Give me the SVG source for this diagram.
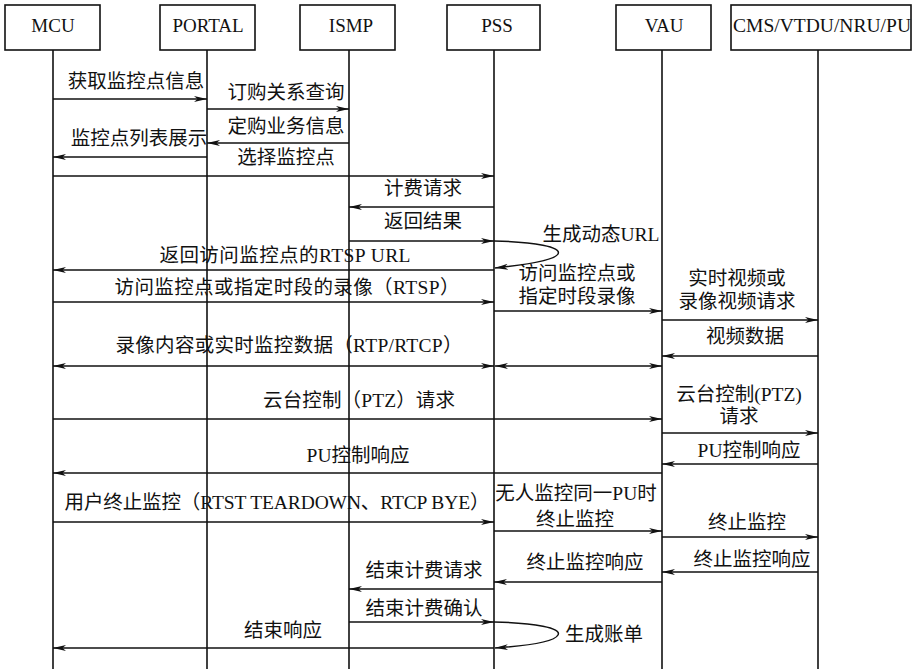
<svg xmlns="http://www.w3.org/2000/svg" width="913" height="669" viewBox="0 0 913 669">
<style>
.box{fill:#fff;stroke:#111;stroke-width:1.6}
.life{stroke:#111;stroke-width:1.6;fill:none}
.hd{font-family:"Liberation Serif","Noto Sans CJK SC",serif;font-size:19px;fill:#111;text-anchor:middle}
.msg{stroke:#111;stroke-width:1.5;fill:none;marker-end:url(#ah)}
.dbl{stroke:#111;stroke-width:1.5;fill:none;marker-end:url(#ah);marker-start:url(#ah)}
.t{font-family:"Liberation Serif","Noto Sans CJK SC",serif;font-size:19.5px;fill:#111;text-anchor:middle}
</style>
<defs>
<marker id="ah" viewBox="0 0 13 6" refX="13" refY="3" markerWidth="13" markerHeight="6" markerUnits="userSpaceOnUse" orient="auto-start-reverse">
<path d="M0,0 L13,3 L0,6 L3.5,3 z" fill="#111"/>
</marker>
</defs>
<rect width="913" height="669" fill="#fff"/>
<g id="MCU"><line class="life" x1="53" y1="50" x2="53" y2="669"/><rect class="box" x="5" y="5" width="95" height="45"/><text class="hd" x="53" y="32">MCU</text></g>
<g id="PORTAL"><line class="life" x1="207" y1="50" x2="207" y2="669"/><rect class="box" x="160" y="5" width="95" height="45"/><text class="hd" x="208" y="32">PORTAL</text></g>
<g id="ISMP"><line class="life" x1="349" y1="50" x2="349" y2="669"/><rect class="box" x="300" y="5" width="95" height="45"/><text class="hd" x="351" y="32">ISMP</text></g>
<g id="PSS"><line class="life" x1="494" y1="50" x2="494" y2="669"/><rect class="box" x="447" y="5" width="93" height="45"/><text class="hd" x="497" y="32">PSS</text></g>
<g id="VAU"><line class="life" x1="662" y1="50" x2="662" y2="669"/><rect class="box" x="616" y="5" width="95" height="45"/><text class="hd" x="664" y="32">VAU</text></g>
<g id="CMS"><line class="life" x1="818" y1="50" x2="818" y2="669"/><rect class="box" x="731" y="5" width="180" height="45"/><text class="hd" x="822" y="32" textLength="178" lengthAdjust="spacingAndGlyphs">CMS/VTDU/NRU/PU</text></g>
<g id="connectors">
<line class="msg" x1="53" y1="99" x2="207" y2="99"/>
<line class="msg" x1="207" y1="109" x2="349" y2="109"/>
<line class="msg" x1="349" y1="143" x2="207" y2="143"/>
<line class="msg" x1="207" y1="157" x2="53" y2="157"/>
<line class="msg" x1="53" y1="176" x2="494" y2="176"/>
<line class="msg" x1="494" y1="207" x2="349" y2="207"/>
<line class="msg" x1="349" y1="241" x2="494" y2="241"/>
<path class="msg" d="M494,241 C535,242 562,247 558,254 C554,261 525,265 495,268"/>
<line class="msg" x1="494" y1="270" x2="53" y2="270"/>
<line class="msg" x1="53" y1="302" x2="494" y2="302"/>
<line class="msg" x1="494" y1="311" x2="662" y2="311"/>
<line class="msg" x1="662" y1="320" x2="818" y2="320"/>
<line class="msg" x1="818" y1="356" x2="662" y2="356"/>
<line class="dbl" x1="53" y1="366" x2="494" y2="366"/>
<line class="dbl" x1="495" y1="366" x2="662" y2="366"/>
<line class="msg" x1="53" y1="419" x2="662" y2="419"/>
<line class="msg" x1="662" y1="433" x2="818" y2="433"/>
<line class="msg" x1="818" y1="464" x2="662" y2="464"/>
<line class="msg" x1="662" y1="473" x2="53" y2="473"/>
<line class="msg" x1="53" y1="522" x2="494" y2="522"/>
<line class="msg" x1="494" y1="531" x2="662" y2="531"/>
<line class="msg" x1="662" y1="537" x2="818" y2="537"/>
<line class="msg" x1="818" y1="572" x2="662" y2="572"/>
<line class="msg" x1="662" y1="582" x2="494" y2="582"/>
<line class="msg" x1="494" y1="589" x2="349" y2="589"/>
<line class="msg" x1="349" y1="622" x2="494" y2="622"/>
<path class="msg" d="M494,622 C535,623 562,628 558,635 C554,642 525,646 495,648"/>
<line class="msg" x1="494" y1="648" x2="53" y2="648"/>
</g>
<g id="labels">
<text class="t" x="136" y="88">获取监控点信息</text>
<text class="t" x="286" y="99">订购关系查询</text>
<text class="t" x="286" y="133">定购业务信息</text>
<text class="t" x="139" y="145">监控点列表展示</text>
<text class="t" x="286" y="164">选择监控点</text>
<text class="t" x="423" y="195">计费请求</text>
<text class="t" x="423" y="228">返回结果</text>
<text class="t" x="601" y="241">生成动态URL</text>
<text class="t" x="285" y="262" textLength="251">返回访问监控点的RTSP URL</text>
<text class="t" x="287" y="294" textLength="345">访问监控点或指定时段的录像（RTSP）</text>
<text class="t" x="577" y="280">访问监控点或</text>
<text class="t" x="577" y="303">指定时段录像</text>
<text class="t" x="737" y="285">实时视频或</text>
<text class="t" x="737" y="308">录像视频请求</text>
<text class="t" x="745" y="343">视频数据</text>
<text class="t" x="289" y="352" textLength="347">录像内容或实时监控数据（RTP/RTCP）</text>
<text class="t" x="359" y="407" textLength="192">云台控制（PTZ）请求</text>
<text class="t" x="739" y="401">云台控制(PTZ)</text>
<text class="t" x="739" y="423">请求</text>
<text class="t" x="749" y="457">PU控制响应</text>
<text class="t" x="358" y="462">PU控制响应</text>
<text class="t" x="277" y="509" textLength="425">用户终止监控（RTST TEARDOWN、RTCP BYE）</text>
<text class="t" x="576" y="500">无人监控同一PU时</text>
<text class="t" x="575" y="526">终止监控</text>
<text class="t" x="747" y="529">终止监控</text>
<text class="t" x="752" y="566">终止监控响应</text>
<text class="t" x="585" y="569">终止监控响应</text>
<text class="t" x="424" y="577">结束计费请求</text>
<text class="t" x="424" y="615">结束计费确认</text>
<text class="t" x="604" y="641">生成账单</text>
<text class="t" x="283" y="637">结束响应</text>
</g>
</svg>
